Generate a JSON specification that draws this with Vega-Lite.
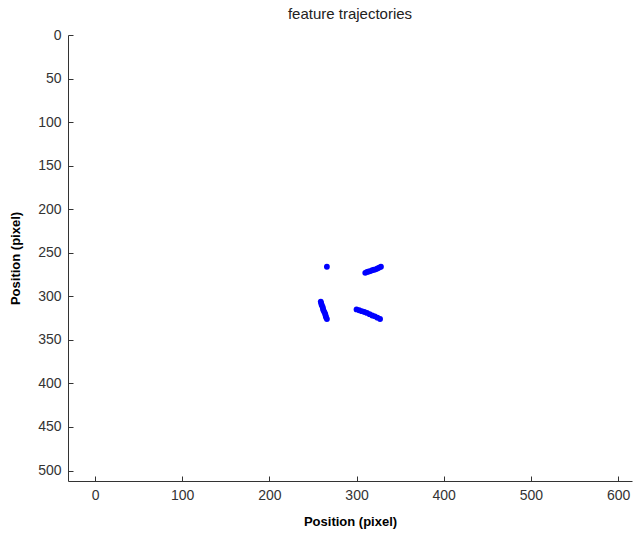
{
  "$schema": "https://vega.github.io/schema/vega-lite/v6.json",
  "width": 564,
  "height": 446,
  "autosize": {"type": "none"},
  "padding": {"left": 68, "top": 35, "right": 1, "bottom": 53},
  "background": "white",
  "config": {"view": {"stroke": null}, "font": "Liberation Sans"},
  "title": {"text": "feature trajectories", "fontSize": 15, "fontWeight": "normal", "color": "#222", "offset": 6, "font": "Liberation Sans"},
  "data": {"values": [
    {"traj": "A", "x": 266, "y": 266},
    {"traj": "B", "x": 310, "y": 273},
    {"traj": "B", "x": 312, "y": 272},
    {"traj": "B", "x": 314, "y": 271.5},
    {"traj": "B", "x": 316, "y": 271},
    {"traj": "B", "x": 318, "y": 270},
    {"traj": "B", "x": 320, "y": 269.5},
    {"traj": "B", "x": 322, "y": 269},
    {"traj": "B", "x": 324, "y": 268},
    {"traj": "B", "x": 326, "y": 267},
    {"traj": "B", "x": 328, "y": 266},
    {"traj": "C", "x": 259, "y": 306},
    {"traj": "C", "x": 259.5, "y": 308},
    {"traj": "C", "x": 260, "y": 310},
    {"traj": "C", "x": 261, "y": 312},
    {"traj": "C", "x": 261.5, "y": 314},
    {"traj": "C", "x": 262, "y": 316},
    {"traj": "C", "x": 263, "y": 318},
    {"traj": "C", "x": 264, "y": 320},
    {"traj": "C", "x": 264.5, "y": 322},
    {"traj": "C", "x": 265, "y": 324},
    {"traj": "C", "x": 266, "y": 326},
    {"traj": "D", "x": 300, "y": 315},
    {"traj": "D", "x": 303, "y": 316},
    {"traj": "D", "x": 306, "y": 317},
    {"traj": "D", "x": 309, "y": 318},
    {"traj": "D", "x": 312, "y": 319},
    {"traj": "D", "x": 315, "y": 320.5},
    {"traj": "D", "x": 318, "y": 322},
    {"traj": "D", "x": 321, "y": 323},
    {"traj": "D", "x": 324, "y": 324.5},
    {"traj": "D", "x": 327, "y": 326}
  ]},
  "mark": {"type": "point", "filled": true, "shape": "circle", "size": 34, "color": "#0000ff", "opacity": 1},
  "encoding": {
    "x": {
      "field": "x", "type": "quantitative",
      "scale": {"domain": [-31, 616], "nice": false, "zero": false},
      "axis": {
        "title": "Position (pixel)", "titleFontSize": 13, "titleFontWeight": "bold", "titleColor": "#000", "titlePadding": 13,
        "values": [0, 100, 200, 300, 400, 500, 600],
        "grid": false, "tickSize": -5, "labelPadding": 12, "labelFontSize": 14, "labelColor": "#333",
        "domainColor": "#333", "tickColor": "#333", "labelFlush": false
      }
    },
    "y": {
      "field": "y", "type": "quantitative",
      "scale": {"domain": [0, 512], "nice": false, "zero": false, "reverse": true},
      "axis": {
        "title": "Position (pixel)", "titleFontSize": 13, "titleFontWeight": "bold", "titleColor": "#000", "titlePadding": 15,
        "values": [0, 50, 100, 150, 200, 250, 300, 350, 400, 450, 500],
        "grid": false, "tickSize": -5, "labelPadding": 12, "labelFontSize": 14, "labelColor": "#333",
        "domainColor": "#333", "tickColor": "#333", "labelFlush": false
      }
    }
  }
}
